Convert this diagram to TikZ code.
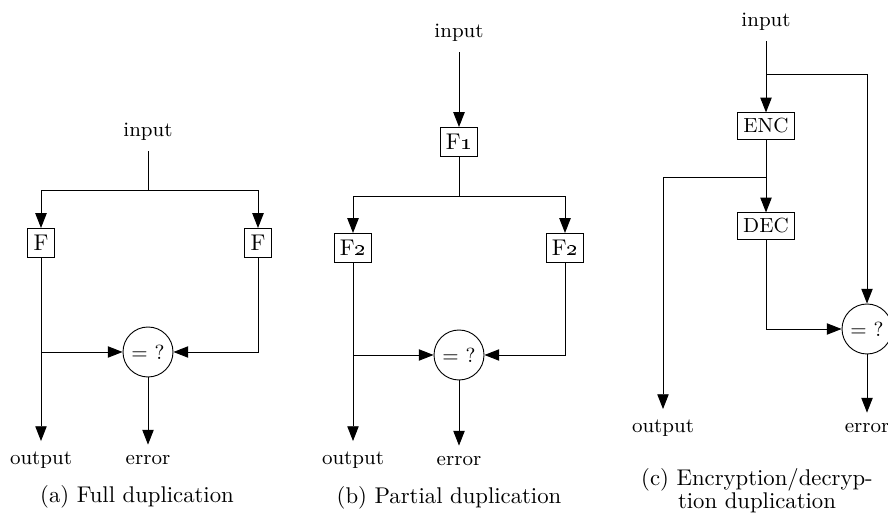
\documentclass[tikz,border=0pt]{standalone}
\usepackage{tikz}
\usetikzlibrary{positioning, arrows.meta, calc}
\tikzset{
  blk/.style={draw, thin, minimum height=12.8pt, inner sep=2.5pt},
  cmp/.style={draw, thin, circle, minimum size=22pt, inner sep=0pt, font=\small},
  lbl/.style={font=\small, inner sep=4.5pt},
  capt/.style={font=\normalsize, align=center},
  arr/.style={-{Triangle[length=6.5pt,width=5pt]}}
}

\begin{document}
\begin{tikzpicture}[x=0.44pt, y=-0.44pt, thin]
  \useasboundingbox (0,0) rectangle (888,521);

  % (a) full duplication
  \node[lbl] (inA) at (148,132) {input};
  \coordinate (brA) at (148,190);
  \node[blk] (fAL) at (41,243) {F};
  \node[blk] (fAR) at (258,243) {F};
  \node[cmp] (cmpA) at (148,352) {= ?};
  \coordinate (jA) at (fAL |- cmpA);
  \node[lbl] (outA) at (41,460) {output};
  \node[lbl] (errA) at (148,460) {error};
  \draw (inA) -- (brA);
  \draw[arr] (brA) -| (fAL);
  \draw[arr] (brA) -| (fAR);
  \draw[arr] (fAL) -- (outA);
  \draw[arr] (jA) -- (cmpA);
  \draw[arr] (fAR) |- (cmpA);
  \draw[arr] (cmpA) -- (errA);
  \node[capt] (capA) at (137,497) {(a) Full duplication};

  % (b) partial duplication
  \node[lbl] (inB) at (459,33) {input};
  \node[blk] (fB) at (459,142) {F\oldstylenums{1}};
  \coordinate (brB) at (459,196);
  \node[blk] (fBL) at (353,248) {F\oldstylenums{2}};
  \node[blk] (fBR) at (565,248) {F\oldstylenums{2}};
  \node[cmp] (cmpB) at (459,355) {= ?};
  \coordinate (jB) at (fBL |- cmpB);
  \node[lbl] (outB) at (353,460) {output};
  \node[lbl] (errB) at (459,461) {error};
  \draw[arr] (inB) -- (fB);
  \draw (fB) -- (brB);
  \draw[arr] (brB) -| (fBL);
  \draw[arr] (brB) -| (fBR);
  \draw[arr] (fBL) -- (outB);
  \draw[arr] (jB) -- (cmpB);
  \draw[arr] (fBR) |- (cmpB);
  \draw[arr] (cmpB) -- (errB);
  \node[capt] (capB) at (449,498) {(b) Partial duplication};

  % (c) encryption/decryption duplication
  \node[lbl] (inC) at (766,22) {input};
  \coordinate (brC) at (766,74);
  \node[blk, font=\small, minimum height=11pt] (enc) at (766,126) {ENC};
  \coordinate (brD) at (766,177);
  \node[blk, font=\small, minimum height=11pt] (dec) at (766,226) {DEC};
  \node[cmp] (cmpC) at (867,329) {= ?};
  \node[lbl] (outC) at (663,428) {output};
  \node[lbl] (errC) at (867,428) {error};
  \draw[arr] (inC) -- (enc);
  \draw[arr] (brC) -| (cmpC);
  \draw (enc) -- (brD);
  \draw[arr] (brD) -- (dec);
  \draw[arr] (brD) -| (outC);
  \draw[arr] (dec) |- (cmpC);
  \draw[arr] (cmpC) -- (errC);
  \node[capt] (capC) at (757,491) {(c) Encryption/decryp-\\[-2pt]tion duplication};
\end{tikzpicture}
\end{document}
